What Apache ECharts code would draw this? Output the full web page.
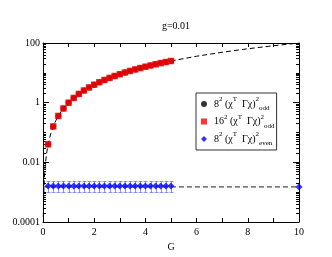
<!DOCTYPE html>
<html><head><meta charset="utf-8">
<script src="https://cdn.jsdelivr.net/npm/echarts@6/dist/echarts.min.js"></script>
<style>html,body{margin:0;padding:0;background:#fff}#c{width:332px;height:257px}</style>
</head><body><div id="c"></div>
<script>
const titleText = 'g=0.01';
const xAxisName = 'G';
const yTickLabels = { '-4': '0.0001', '-2': '0.01', '0': '1', '2': '100' };
const minorDecades = [-4, -3, -2, -1, 0, 1];
const minorMultipliers = [2, 3, 4, 5, 6, 7, 8, 9];

const gPoints = [0.2, 0.4, 0.6, 0.8, 1.0, 1.2, 1.4, 1.6, 1.8, 2.0, 2.2, 2.4, 2.6, 2.8, 3.0, 3.2, 3.4, 3.6, 3.8, 4.0, 4.2, 4.4, 4.6, 4.8, 5.0];
const odd8Values = [0.04, 0.16, 0.36, 0.64, 1.0, 1.44, 1.96, 2.56, 3.24, 4.0, 4.84, 5.76, 6.76, 7.84, 9.0, 10.24, 11.56, 12.96, 14.44, 16.0, 17.64, 19.36, 21.16, 23.04, 25.0];
const odd16Values = [0.04, 0.16, 0.36, 0.64, 1.0, 1.44, 1.96, 2.56, 3.24, 4.0, 4.84, 5.76, 6.76, 7.84, 9.0, 10.24, 11.56, 12.96, 14.44, 16.0, 17.64, 19.36, 21.16, 23.04, 25.0];
const evenValues = [0.0016, 0.0016, 0.0016, 0.0016, 0.0016, 0.0016, 0.0016, 0.0016, 0.0016, 0.0016, 0.0016, 0.0016, 0.0016, 0.0016, 0.0016, 0.0016, 0.0016, 0.0016, 0.0016, 0.0016, 0.0016, 0.0016, 0.0016, 0.0016, 0.0016];
const evenLow = [0.0010, 0.0010, 0.0010, 0.0010, 0.0010, 0.0010, 0.0010, 0.0010, 0.0010, 0.0010, 0.0010, 0.0010, 0.0010, 0.0010, 0.0010, 0.0010, 0.0010, 0.0010, 0.0010, 0.0010, 0.0010, 0.0010, 0.0010, 0.0010, 0.0010];
const evenHigh = [0.0023, 0.0023, 0.0023, 0.0023, 0.0023, 0.0023, 0.0023, 0.0023, 0.0023, 0.0023, 0.0023, 0.0023, 0.0023, 0.0023, 0.0023, 0.0023, 0.0023, 0.0023, 0.0023, 0.0023, 0.0023, 0.0023, 0.0023, 0.0023, 0.0023];
const evenEndG = [10];
const evenEndValues = [0.0015];
const fitG = [0.012, 0.02, 0.03, 0.05, 0.07, 0.1, 0.15, 0.2, 0.3, 0.4, 0.5, 0.7, 1, 1.5, 2, 2.5, 3, 4, 5, 6, 7, 8, 9, 10];
const fitValues = [0.000144, 0.0004, 0.0009, 0.0025, 0.0049, 0.01, 0.0225, 0.04, 0.09, 0.16, 0.25, 0.49, 1, 2.25, 4, 6.25, 9, 16, 25, 36, 49, 64, 81, 100];
const evenFitG = [0, 10];
const evenFitValues = [0.0015, 0.0015];

const seriesNames = ['odd8', 'odd16', 'even8'];
const legendRich = {
  odd8: '{p|}{n|8}{sup|2}{n| (χ}{sup|T}{n|  Γχ)}{sup|2}{sub|odd}',
  odd16: '{p|}{n|16}{sup|2}{n| (χ}{sup|T}{n|  Γχ)}{sup|2}{sub|odd}',
  even8: '{p|}{n|8}{sup|2}{n| (χ}{sup|T}{n|  Γχ)}{sup|2}{sub|even}'
};

const minorTickValues = [];
minorDecades.forEach(d => {
  if (d % 2 !== 0) minorTickValues.push(Math.pow(10, d));
  minorMultipliers.forEach(m => minorTickValues.push(m * Math.pow(10, d)));
});
const minorTickExponents = minorTickValues.map(v => Math.log10(v));

const FONT = '"Liberation Serif","DejaVu Serif",serif';
const zip = (a, b) => a.map((v, i) => [v, b[i]]);

const chart = echarts.init(document.getElementById('c'));

const axisCommonX = {
  type: 'value', min: 0, max: 10, interval: 1,
  axisLine: { show: true, onZero: false, lineStyle: { color: '#000', width: 1 } },
  axisTick: { show: true, inside: true, length: 4, lineStyle: { color: '#000' } },
  splitLine: { show: false }
};
const axisCommonY = {
  type: 'log', min: 0.0001, max: 100, interval: 2,
  axisLine: { show: true, onZero: false, lineStyle: { color: '#000', width: 1 } },
  axisTick: { show: true, inside: true, length: 6, lineStyle: { color: '#000' } },
  splitLine: { show: false }
};
const minorAxisY = pos => ({
  type: 'value', position: pos, min: -4, max: 2,
  axisLine: { show: false, onZero: false },
  axisTick: { show: true, inside: true, length: 3, customValues: minorTickExponents, lineStyle: { color: '#000' } },
  axisLabel: { show: false },
  splitLine: { show: false }
});

chart.setOption({
  animation: false,
  backgroundColor: '#fff',
  title: {
    text: titleText, left: 171, top: 16, textAlign: 'center',
    textStyle: { fontFamily: FONT, fontSize: 10, fontWeight: 'normal', color: '#000' }
  },
  grid: { left: 43, right: 33, top: 43, bottom: 35 },
  xAxis: [
    Object.assign({ position: 'bottom' }, axisCommonX, {
      name: xAxisName, nameLocation: 'middle', nameGap: 17,
      nameTextStyle: { fontFamily: FONT, fontSize: 10, color: '#000' },
      axisLabel: {
        margin: 5, fontFamily: FONT, fontSize: 10, color: '#000',
        formatter: v => (Math.round(v) % 2 === 0 ? String(Math.round(v)) : '')
      }
    }),
    Object.assign({ position: 'top' }, axisCommonX, { axisLabel: { show: false } })
  ],
  yAxis: [
    Object.assign({ position: 'left' }, axisCommonY, {
      axisLabel: {
        margin: 3, fontFamily: FONT, fontSize: 10, color: '#000',
        formatter: v => yTickLabels[String(Math.round(Math.log10(v)))] || ''
      }
    }),
    Object.assign({ position: 'right' }, axisCommonY, { axisLabel: { show: false } }),
    minorAxisY('left'),
    minorAxisY('right')
  ],
  legend: {
    orient: 'vertical', left: 196, top: 93,
    data: seriesNames.map(n => ({ name: n })),
    itemWidth: 6, itemHeight: 6, itemGap: 1.5,
    padding: [3, 2, 3, 5],
    borderColor: '#333', borderWidth: 1, backgroundColor: '#fff',
    selectedMode: false,
    formatter: n => legendRich[n],
    textStyle: {
      fontFamily: FONT, fontSize: 10, color: '#000',
      rich: {
        p: { width: 2 },
        n: { fontFamily: FONT, fontSize: 10, lineHeight: 16, color: '#000' },
        sup: { fontFamily: FONT, fontSize: 7, lineHeight: 8, verticalAlign: 'top', color: '#000' },
        sub: { fontFamily: FONT, fontSize: 7, lineHeight: 8, verticalAlign: 'bottom', color: '#000' }
      }
    }
  },
  series: [
    {
      type: 'line', name: 'fit', data: zip(fitG, fitValues), symbol: 'none', smooth: false,
      lineStyle: { color: '#000', width: 1, type: [5, 3] }, z: 2
    },
    {
      type: 'line', name: 'evenFit', data: zip(evenFitG, evenFitValues), symbol: 'none',
      lineStyle: { color: '#222', width: 1, type: [5, 3] }, z: 2
    },
    {
      type: 'custom', name: 'errorBars',
      data: gPoints.map((g, i) => [g, evenLow[i], evenHigh[i]]),
      encode: { x: 0, y: [1, 2] },
      renderItem: (params, api) => {
        const g = api.value(0);
        const lo = api.coord([g, api.value(1)]);
        const hi = api.coord([g, api.value(2)]);
        const x = Math.round(lo[0]) + 0.5;
        const st = { stroke: 'rgba(70,70,255,0.6)', lineWidth: 1 };
        return {
          type: 'group', children: [
            { type: 'line', shape: { x1: x, y1: lo[1], x2: x, y2: hi[1] }, style: st },
            { type: 'line', shape: { x1: x - 2, y1: Math.round(lo[1]) + 0.5, x2: x + 2, y2: Math.round(lo[1]) + 0.5 }, style: st },
            { type: 'line', shape: { x1: x - 2, y1: Math.round(hi[1]) + 0.5, x2: x + 2, y2: Math.round(hi[1]) + 0.5 }, style: st }
          ]
        };
      },
      z: 3
    },
    {
      type: 'scatter', name: 'odd8', data: zip(gPoints, odd8Values),
      symbol: 'circle', symbolSize: 6, itemStyle: { color: '#000' }, z: 4
    },
    {
      type: 'scatter', name: 'odd16', data: zip(gPoints, odd16Values),
      symbol: 'rect', symbolSize: 6.5, itemStyle: { color: '#ff0000' }, z: 5
    },
    {
      type: 'scatter', name: 'even8', data: zip(gPoints, evenValues).concat(zip(evenEndG, evenEndValues)),
      symbol: 'diamond', symbolSize: 7, itemStyle: { color: '#0000ff' }, z: 6
    }
  ]
});
</script></body></html>
